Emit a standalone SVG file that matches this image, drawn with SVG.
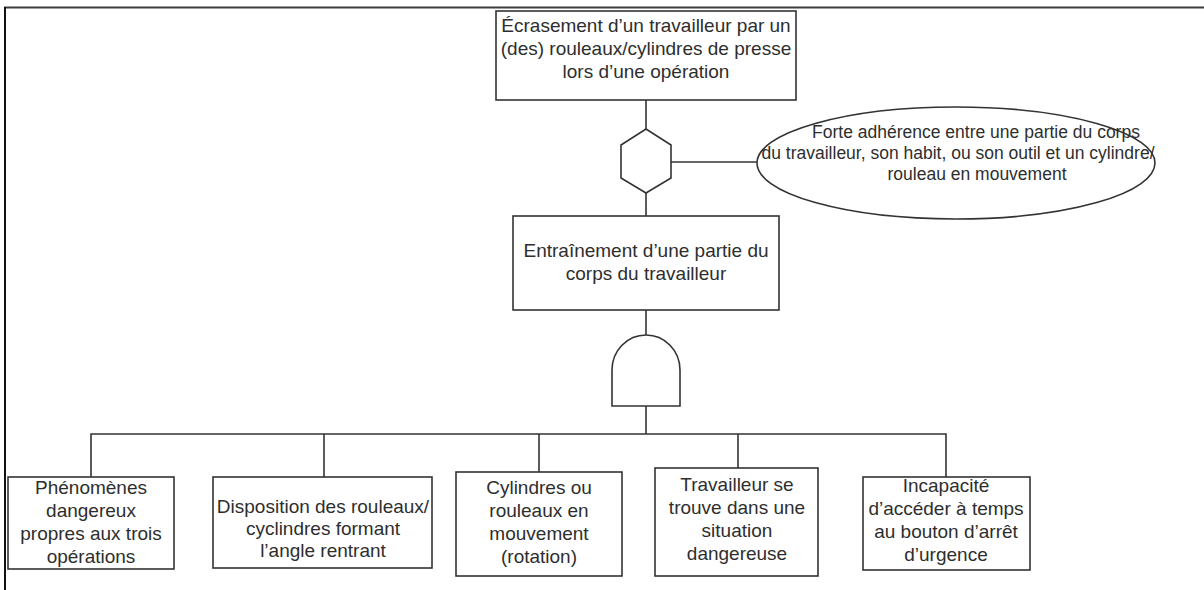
<svg xmlns="http://www.w3.org/2000/svg" width="1204" height="590" viewBox="0 0 1204 590">
  <style>
    .box { fill: #ffffff; stroke: #333333; stroke-width: 1.6; }
    .ln { fill: none; stroke: #333333; stroke-width: 1.6; }
    text { font-family: "Liberation Sans", Arial, sans-serif; fill: #2e2e2e; text-anchor: middle; }
    .t19 { font-size: 19px; }
    .t17 { font-size: 17.5px; }
  </style>
  <rect width="1204" height="590" fill="#ffffff"/>

  <!-- page frame -->
  <g id="frame">
    <line x1="4" y1="7.5" x2="1204" y2="7.5" stroke="#3c3c3c" stroke-width="2"/>
    <line x1="5" y1="7" x2="5" y2="590" stroke="#111111" stroke-width="2"/>
  </g>

  <!-- connectors -->
  <g id="connectors" class="ln">
    <line x1="646" y1="100" x2="646" y2="129"/>
    <line x1="671" y1="162" x2="757" y2="162"/>
    <line x1="646" y1="193" x2="646" y2="216"/>
    <line x1="646" y1="310" x2="646" y2="335"/>
    <line x1="646" y1="406" x2="646" y2="434"/>
    <polyline points="91,477 91,434 946,434 946,477"/>
    <line x1="324" y1="434" x2="324" y2="477"/>
    <line x1="539" y1="434" x2="539" y2="472"/>
    <line x1="738" y1="434" x2="738" y2="468"/>
  </g>

  <g id="top-event">
    <rect class="box" x="496" y="11" width="300" height="89"/>
    <text class="t19" x="646" y="32">Écrasement d’un travailleur par un</text>
    <text class="t19" x="646" y="55">(des) rouleaux/cylindres de presse</text>
    <text class="t19" x="646" y="78">lors d’une opération</text>
  </g>

  <g id="inhibit-gate">
    <polygon class="box" points="646,129 671,145 671,178 646,193 621,178 621,145"/>
  </g>

  <g id="condition">
    <ellipse class="box" cx="956" cy="163" rx="199" ry="56"/>
    <text class="t17" x="976" y="138">Forte adhérence entre une partie du corps</text>
    <text class="t17" x="958" y="159">du travailleur, son habit, ou son outil et un cylindre/</text>
    <text class="t17" x="977" y="180">rouleau en mouvement</text>
  </g>

  <g id="entrainement">
    <rect class="box" x="513" y="216" width="266" height="94"/>
    <text class="t19" x="646" y="257">Entraînement d’une partie du</text>
    <text class="t19" x="646" y="280">corps du travailleur</text>
  </g>

  <g id="and-gate">
    <path class="box" d="M612,406 V370 A34,35 0 0 1 680,370 V406 Z"/>
  </g>

  <g id="phenomenes">
    <rect class="box" x="8" y="477" width="166" height="92"/>
    <text class="t19" x="91" y="494">Phénomènes</text>
    <text class="t19" x="91" y="517">dangereux</text>
    <text class="t19" x="91" y="540">propres aux trois</text>
    <text class="t19" x="91" y="563">opérations</text>
  </g>

  <g id="disposition">
    <rect class="box" x="213" y="477" width="219" height="91"/>
    <text class="t19" x="323" y="513">Disposition des rouleaux/</text>
    <text class="t19" x="323" y="535">cyclindres formant</text>
    <text class="t19" x="323" y="557">l’angle rentrant</text>
  </g>

  <g id="cylindres">
    <rect class="box" x="456" y="472" width="166" height="104"/>
    <text class="t19" x="539" y="494">Cylindres ou</text>
    <text class="t19" x="539" y="517">rouleaux en</text>
    <text class="t19" x="539" y="540">mouvement</text>
    <text class="t19" x="539" y="563">(rotation)</text>
  </g>

  <g id="travailleur">
    <rect class="box" x="655" y="468" width="163" height="108"/>
    <text class="t19" x="737" y="491">Travailleur se</text>
    <text class="t19" x="737" y="514">trouve dans une</text>
    <text class="t19" x="737" y="537">situation</text>
    <text class="t19" x="737" y="560">dangereuse</text>
  </g>

  <g id="incapacite">
    <rect class="box" x="863" y="477" width="167" height="93"/>
    <text class="t19" x="946" y="492">Incapacité</text>
    <text class="t19" x="946" y="515">d’accéder à temps</text>
    <text class="t19" x="946" y="538">au bouton d’arrêt</text>
    <text class="t19" x="946" y="561">d’urgence</text>
  </g>
</svg>
